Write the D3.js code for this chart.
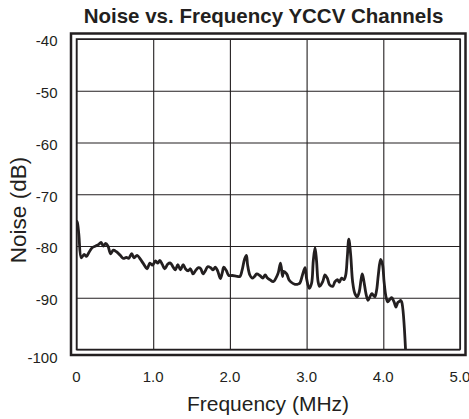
<!DOCTYPE html>
<html>
<head>
<meta charset="utf-8">
<script src="https://cdn.jsdelivr.net/npm/d3@7"></script>
<style>
  html, body { margin: 0; padding: 0; background: #fff; }
  svg { display: block; }
  text { font-family: "Liberation Sans", Arial, Helvetica, sans-serif; fill: #231f20; }
</style>
</head>
<body>
<svg id="chart" width="469" height="419"></svg>
<script>
const title = "Noise vs. Frequency YCCV Channels";
const xLabel = "Frequency (MHz)";
const yLabel = "Noise (dB)";
const xTicks = [0, 1, 2, 3, 4, 5];
const xTickLabels = ["0", "1.0", "2.0", "3.0", "4.0", "5.0"];
const yTicks = [-40, -50, -60, -70, -80, -90, -100];
const yTickLabels = ["-40", "-50", "-60", "-70", "-80", "-90", "-100"];

const freq = [
  0.0, 0.01, 0.03, 0.063, 0.1, 0.13, 0.16, 0.206, 0.25, 0.29, 0.32, 0.35, 0.38, 0.41, 0.445, 0.48,
  0.52, 0.57, 0.61, 0.65, 0.68, 0.72, 0.75, 0.79, 0.835, 0.88, 0.92, 0.957, 0.99, 1.03, 1.06, 1.087,
  1.12, 1.15, 1.19, 1.225, 1.26, 1.29, 1.32, 1.355, 1.39, 1.42, 1.455, 1.485, 1.52, 1.55, 1.59, 1.62,
  1.65, 1.68, 1.71, 1.75, 1.78, 1.81, 1.84, 1.876, 1.9, 1.92, 1.955, 1.985, 2.03, 2.08, 2.13, 2.16,
  2.19, 2.215, 2.23, 2.26, 2.29, 2.32, 2.35, 2.39, 2.43, 2.46, 2.49, 2.52, 2.565, 2.6, 2.63, 2.66,
  2.687, 2.7, 2.74, 2.77, 2.8, 2.85, 2.88, 2.91, 2.95, 2.98, 3.0, 3.035, 3.065, 3.087, 3.11, 3.13,
  3.15, 3.17, 3.21, 3.24, 3.27, 3.3, 3.34, 3.37, 3.4, 3.426, 3.456, 3.487, 3.51, 3.53, 3.55, 3.574,
  3.6, 3.63, 3.66, 3.687, 3.71, 3.726, 3.748, 3.774, 3.8, 3.826, 3.85, 3.87, 3.89, 3.913, 3.935, 3.965,
  3.99, 4.01, 4.035, 4.057, 4.087, 4.11, 4.14, 4.165, 4.19, 4.21, 4.226, 4.24, 4.29
];
const noise = [
  -75.2, -75.4, -77.7, -82.3, -81.6, -82.0, -81.3, -80.3, -80.0, -79.7, -79.3, -80.0, -79.5, -80.0, -81.5, -80.8,
  -81.1, -81.8, -82.4, -82.2, -82.4, -81.5, -82.3, -81.8, -82.6, -83.6, -84.4, -83.3, -83.7, -82.9, -83.3, -82.8,
  -83.6, -84.4, -83.5, -83.3, -84.1, -84.6, -83.6, -84.6, -83.6, -84.4, -84.8, -84.4, -85.4, -84.8, -84.2, -84.4,
  -85.4, -84.8, -84.0, -84.2, -84.6, -84.1, -84.8, -86.3, -85.2, -84.1, -84.8, -85.7, -85.7, -85.8, -85.9, -84.6,
  -82.6, -81.8, -83.6, -85.6, -86.2, -85.9, -85.4, -85.7, -86.2, -85.6, -86.2, -86.5, -86.9, -86.2, -85.2, -83.3,
  -85.9, -84.9, -85.4, -86.5, -87.0, -87.4, -87.4, -87.2, -85.4, -84.2, -86.3, -88.2, -87.2, -82.9, -80.3, -82.9,
  -86.9, -87.8, -86.9, -85.6, -86.2, -87.5, -87.8, -86.9, -86.5, -87.0, -86.2, -86.5, -85.6, -82.3, -78.7, -81.6,
  -86.9, -89.2, -89.8, -88.8, -86.5, -85.4, -86.9, -89.2, -90.5, -89.8, -89.2, -89.5, -89.8, -88.5, -85.6, -82.6,
  -83.6, -86.9, -89.8, -90.8, -90.3, -90.0, -90.8, -91.8, -90.9, -90.7, -90.5, -90.8, -100.0
];

const svg = d3.select("#chart");
const ink = "#231f20";
const plot = { left: 76.5, right: 460, top: 39, bottom: 349.5 };

const x = d3.scaleLinear().domain([0, 5]).range([plot.left, plot.right]);
const y = d3.scaleLinear().domain([-100, -40]).range([plot.bottom, plot.top]);

// Outer frame
svg.append("rect")
  .attr("x", plot.left - 5.5).attr("y", plot.top - 5.5)
  .attr("width", plot.right - plot.left + 11).attr("height", plot.bottom - plot.top + 11)
  .attr("fill", "none").attr("stroke", ink).attr("stroke-width", 2.5);

// Grid
const gx = d3.axisBottom(x).tickValues(xTicks).tickSize(-(plot.bottom - plot.top)).tickFormat("");
svg.append("g").attr("transform", `translate(0,${plot.bottom})`).call(gx)
  .call(g => g.select(".domain").remove())
  .call(g => g.selectAll("line").attr("stroke", ink).attr("stroke-width", 1.1));
const gy = d3.axisLeft(y).tickValues(yTicks).tickSize(-(plot.right - plot.left)).tickFormat("");
svg.append("g").attr("transform", `translate(${plot.left},0)`).call(gy)
  .call(g => g.select(".domain").remove())
  .call(g => g.selectAll("line").attr("stroke", ink).attr("stroke-width", 1.1));

// Inner frame
svg.append("rect")
  .attr("x", plot.left).attr("y", plot.top)
  .attr("width", plot.right - plot.left).attr("height", plot.bottom - plot.top)
  .attr("fill", "none").attr("stroke", ink).attr("stroke-width", 1.5);

// Clip
svg.append("clipPath").attr("id", "clip").append("rect")
  .attr("x", plot.left).attr("y", plot.top)
  .attr("width", plot.right - plot.left).attr("height", plot.bottom - plot.top);

const pts = freq.map((f, i) => [f, noise[i]]);
const line = d3.line().x(d => x(d[0])).y(d => y(d[1])).curve(d3.curveCatmullRom.alpha(0.5));
svg.append("path").attr("clip-path", "url(#clip)")
  .attr("d", line(pts))
  .attr("fill", "none").attr("stroke", ink).attr("stroke-width", 2.8)
  .attr("stroke-linejoin", "round").attr("stroke-linecap", "round");

// Tick labels
svg.append("g").selectAll("text").data(xTicks).join("text")
  .attr("x", d => x(d)).attr("y", 381.5)
  .attr("text-anchor", "middle").attr("font-size", 15)
  .text((d, i) => xTickLabels[i]);
svg.append("g").selectAll("text").data(yTicks).join("text")
  .attr("x", 57.5).attr("y", (d, i) => y(d) + (i === yTicks.length - 1 ? 8 : 2))
  .attr("dy", "0.35em")
  .attr("text-anchor", "end").attr("font-size", 15)
  .text((d, i) => yTickLabels[i]);

// Axis labels
svg.append("text").attr("x", 268).attr("y", 411)
  .attr("text-anchor", "middle").attr("font-size", 21).text(xLabel);
svg.append("text").attr("transform", "translate(26,210) rotate(-90)")
  .attr("text-anchor", "middle").attr("font-size", 22.5).text(yLabel);

// Title
svg.append("text").attr("x", 263.5).attr("y", 23)
  .attr("text-anchor", "middle").attr("font-size", 20.5).attr("font-weight", "bold").text(title);
</script>
</body>
</html>
